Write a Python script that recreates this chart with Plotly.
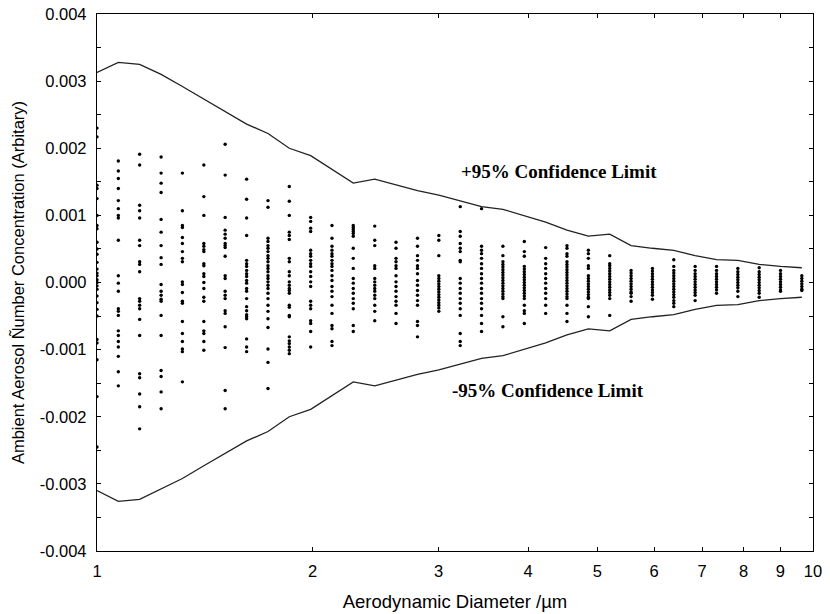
import plotly.graph_objects as go

# Aerodynamic diameter of each channel (um)
diameters = [1.000, 1.071, 1.147, 1.229, 1.316, 1.410, 1.510, 1.618, 1.733, 1.856,
             1.988, 2.129, 2.280, 2.443, 2.616, 2.803, 3.002, 3.216, 3.444, 3.689,
             3.952, 4.233, 4.533, 4.856, 5.201, 5.571, 5.967, 6.391, 6.845, 7.333,
             7.853, 8.411, 9.008, 9.647]

# +/-95% confidence limits (x 1e-3)
upper_limit_e3 = [3.13, 3.28, 3.25, 3.10, 2.92, 2.73, 2.55, 2.36, 2.22, 2.00,
                  1.89, 1.68, 1.48, 1.54, 1.45, 1.37, 1.30, 1.22, 1.13, 1.09,
                  1.00, 0.90, 0.78, 0.69, 0.72, 0.55, 0.51, 0.48, 0.40, 0.34,
                  0.33, 0.27, 0.24, 0.22]
lower_limit_e3 = [-3.10, -3.26, -3.23, -3.08, -2.92, -2.73, -2.55, -2.36, -2.22, -2.00,
                  -1.89, -1.68, -1.48, -1.54, -1.45, -1.37, -1.30, -1.22, -1.13, -1.09,
                  -1.00, -0.90, -0.78, -0.69, -0.72, -0.55, -0.51, -0.48, -0.40, -0.34,
                  -0.33, -0.27, -0.24, -0.22]

# Individual concentration values per channel (x 1e-3)
concentrations_e3 = [
    [2.3, 2.17, 1.45, 1.4, 1.25, 1.0, 0.85, 0.8, 0.6, 0.5, 0.42, 0.3, 0.2, 0.14, 0.1, 0.04, 0.0,
     -0.05, -0.1, -0.2, -0.3, -0.4, -0.5, -0.85, -0.9, -1.15, -1.7, -2.45],
    [1.81, 1.66, 1.55, 1.40, 1.22, 1.10, 1.0, 0.96, 0.63, 0.10, -0.01, -0.13, -0.39, -0.43,
     -0.49, -0.72, -0.79, -0.88, -0.96, -1.10, -1.33, -1.54],
    [1.91, 1.75, 1.15, 1.07, 0.96, 0.63, 0.55, 0.31, 0.27, 0.16, -0.24, -0.28, -0.34, -0.39,
     -0.55, -0.79, -1.36, -1.42, -1.66, -1.85, -2.18],
    [1.87, 1.63, 1.48, 1.34, 0.94, 0.75, 0.55, 0.37, 0.27, -0.03, -0.13, -0.19, -0.25, -0.28,
     -0.49, -0.79, -1.31, -1.40, -1.63, -1.88],
    [1.63, 1.07, 0.85, 0.82, 0.67, 0.58, 0.46, 0.36, 0.31, 0.01, -0.03, -0.15, -0.28, -0.31,
     -0.58, -0.76, -0.88, -0.99, -1.03, -1.48],
    [1.75, 1.28, 1.0, 0.58, 0.54, 0.49, 0.46, 0.28, 0.25, 0.13, 0.09, 0.0, -0.09, -0.22, -0.28,
     -0.58, -0.72, -0.76, -0.88, -1.01],
    [2.06, 1.60, 0.97, 0.78, 0.72, 0.66, 0.58, 0.55, 0.52, 0.39, 0.10, 0.06, -0.13, -0.19, -0.24,
     -0.42, -0.46, -0.66, -0.97, -1.61, -1.88],
    [1.54, 1.24, 0.96, 0.70, 0.33, 0.28, 0.24, 0.18, 0.13, 0.09, 0.03, -0.01, -0.09, -0.13, -0.24,
     -0.36, -0.42, -0.48, -0.51, -0.54, -0.84, -0.96, -1.03],
    [1.22, 1.12, 0.66, 0.61, 0.55, 0.51, 0.46, 0.40, 0.36, 0.31, 0.25, 0.21, 0.16, 0.10, 0.06,
     0.01, -0.04, -0.09, -0.16, -0.24, -0.34, -0.43, -0.54, -0.67, -0.99, -1.19, -1.58],
    [1.43, 1.21, 1.0, 0.75, 0.70, 0.64, 0.36, 0.31, 0.16, 0.10, 0.01, -0.04, -0.09, -0.12, -0.16,
     -0.34, -0.37, -0.49, -0.51, -0.81, -0.87, -0.91, -0.96, -1.01, -1.06],
    [0.97, 0.91, 0.81, 0.76, 0.48, 0.43, 0.39, 0.33, 0.28, 0.24, 0.16, 0.09, 0.01, -0.06, -0.28,
     -0.34, -0.39, -0.57, -0.61, -0.73, -0.96],
    [0.85, 0.66, 0.54, 0.48, 0.43, 0.39, 0.33, 0.28, 0.24, 0.18, 0.10, 0.03, -0.06, -0.13, -0.21,
     -0.34, -0.46, -0.64, -0.69, -0.88, -0.94],
    [0.85, 0.82, 0.79, 0.76, 0.73, 0.69, 0.51, 0.36, 0.21, 0.06, -0.01, -0.09, -0.16, -0.24,
     -0.31, -0.39, -0.64, -0.73],
    [0.84, 0.63, 0.55, 0.25, 0.21, 0.06, 0.01, -0.04, -0.09, -0.13, -0.19, -0.24, -0.34, -0.43, -0.57],
    [0.60, 0.51, 0.36, 0.31, 0.25, 0.21, 0.10, 0.01, -0.06, -0.13, -0.21, -0.28, -0.34, -0.46, -0.61],
    [0.66, 0.54, 0.40, 0.33, 0.25, 0.21, 0.13, 0.03, -0.04, -0.12, -0.19, -0.27, -0.34, -0.58,
     -0.64, -0.81],
    [0.70, 0.63, 0.40, 0.10, 0.06, 0.02, -0.02, -0.06, -0.10, -0.14, -0.18, -0.22, -0.26, -0.30,
     -0.34, -0.38, -0.43],
    [1.13, 0.76, 0.69, 0.58, 0.51, 0.46, 0.33, 0.31, 0.06, -0.01, -0.09, -0.16, -0.24, -0.31,
     -0.39, -0.49, -0.76, -0.88, -0.94],
    [1.10, 0.54, 0.48, 0.43, 0.36, 0.28, 0.21, 0.13, 0.06, -0.01, -0.09, -0.16, -0.24, -0.31,
     -0.39, -0.49, -0.61, -0.73],
    [0.54, 0.40, 0.31, 0.27, 0.23, 0.19, 0.15, 0.11, 0.07, 0.03, -0.01, -0.05, -0.09, -0.13,
     -0.17, -0.21, -0.24, -0.51, -0.66],
    [0.61, 0.46, 0.39, 0.24, 0.20, 0.16, 0.12, 0.08, 0.04, 0.0, -0.04, -0.08, -0.12, -0.16,
     -0.20, -0.24, -0.34, -0.42, -0.46, -0.61],
    [0.52, 0.36, 0.28, 0.21, 0.13, 0.06, -0.01, -0.09, -0.16, -0.24, -0.34, -0.46],
    [0.55, 0.51, 0.43, 0.39, 0.31, 0.27, 0.23, 0.19, 0.15, 0.11, 0.07, 0.03, -0.01, -0.05,
     -0.09, -0.13, -0.17, -0.21, -0.24, -0.34, -0.46, -0.58],
    [0.48, 0.43, 0.36, 0.25, 0.21, 0.10, 0.06, 0.02, -0.02, -0.06, -0.10, -0.14, -0.18, -0.22,
     -0.24, -0.36, -0.51],
    [0.40, 0.28, 0.25, 0.21, 0.17, 0.13, 0.09, 0.05, 0.01, -0.03, -0.07, -0.11, -0.15, -0.19,
     -0.24, -0.49],
    [0.18, 0.14, 0.10, 0.06, 0.02, -0.02, -0.06, -0.10, -0.14, -0.16, -0.21, -0.28],
    [0.21, 0.17, 0.13, 0.09, 0.05, 0.01, -0.03, -0.07, -0.11, -0.15, -0.19, -0.25],
    [0.34, 0.24, 0.18, 0.14, 0.10, 0.06, 0.02, -0.02, -0.06, -0.10, -0.14, -0.18, -0.22, -0.27,
     -0.31, -0.36],
    [0.24, 0.18, 0.13, 0.09, 0.05, 0.01, -0.03, -0.07, -0.11, -0.15, -0.19, -0.27],
    [0.24, 0.18, 0.13, 0.09, 0.05, 0.01, -0.03, -0.07, -0.11, -0.16],
    [0.21, 0.16, 0.12, 0.08, 0.04, 0.0, -0.04, -0.08, -0.13, -0.21],
    [0.22, 0.16, 0.12, 0.08, 0.04, 0.0, -0.04, -0.08, -0.12, -0.16, -0.22],
    [0.18, 0.13, 0.09, 0.05, 0.01, -0.03, -0.07, -0.11, -0.13],
    [0.10, 0.06, 0.02, -0.02, -0.06, -0.10, -0.12],
]

x_tick_vals = [1, 2, 3, 4, 5, 6, 7, 8, 9, 10]
x_tick_text = ["1", "2", "3", "4", "5", "6", "7", "8", "9", "10"]
y_tick_vals = [-0.004, -0.003, -0.002, -0.001, 0.0, 0.001, 0.002, 0.003, 0.004]
y_tick_text = ["-0.004", "-0.003", "-0.002", "-0.001", "0.000", "0.001", "0.002", "0.003", "0.004"]
y_minor_vals = [-0.0035, -0.0025, -0.0015, -0.0005, 0.0005, 0.0015, 0.0025, 0.0035]

SCALE = 1e-3

xs, ys = [], []
for d, col in zip(diameters, concentrations_e3):
    for v in col:
        xs.append(d)
        ys.append(v * SCALE)

fig = go.Figure()
fig.add_trace(go.Scatter(x=xs, y=ys, mode="markers",
                         marker=dict(color="black", size=3.4, line=dict(width=0)),
                         showlegend=False, hoverinfo="skip"))
fig.add_trace(go.Scatter(x=diameters, y=[v * SCALE for v in upper_limit_e3], mode="lines",
                         line=dict(color="#222222", width=1.3), showlegend=False))
fig.add_trace(go.Scatter(x=diameters, y=[v * SCALE for v in lower_limit_e3], mode="lines",
                         line=dict(color="#222222", width=1.3), showlegend=False))

tick_font = dict(family="Liberation Sans, Arial, sans-serif", size=16.5, color="black")
xtitle_font = dict(family="Liberation Sans, Arial, sans-serif", size=18.5, color="black")
fig.update_layout(
    width=830, height=614,
    margin=dict(l=97, r=17, t=14, b=63, autoexpand=False),
    paper_bgcolor="white", plot_bgcolor="white",
    xaxis=dict(type="log", range=[0, 1], tickmode="array", tickvals=x_tick_vals,
               ticktext=x_tick_text, ticks="inside", ticklen=4, tickcolor="black",
               showline=True, linecolor="black", linewidth=1.3, mirror="ticks",
               showgrid=False, zeroline=False, tickfont=tick_font, ticklabelstandoff=5,
               automargin=False,
               title=dict(text="Aerodynamic Diameter /µm", font=xtitle_font, standoff=16)),
    yaxis=dict(range=[-0.004, 0.004], tickmode="array", tickvals=y_tick_vals,
               ticktext=y_tick_text, ticks="inside", ticklen=4, tickcolor="black",
               minor=dict(tickmode="array", tickvals=y_minor_vals, ticks="inside",
                          ticklen=4, tickcolor="black", showgrid=False),
               showline=True, linecolor="black", linewidth=1.3, mirror="ticks",
               showgrid=False, zeroline=False, tickfont=tick_font, ticklabelstandoff=6,
               automargin=False,
               title=dict(text="Ambient Aerosol Ñumber Concentration (Arbitary)",
                          font=tick_font, standoff=10)),
)

ann_font = dict(family="Liberation Serif, Times New Roman, serif", size=19, color="black")
fig.add_annotation(x=0.5056, y=0.00166, xref="x", yref="y", text="<b>+95% Confidence Limit</b>",
                   showarrow=False, xanchor="left", yanchor="middle", font=ann_font)
fig.add_annotation(x=0.493, y=-0.00161, xref="x", yref="y", text="<b>-95% Confidence Limit</b>",
                   showarrow=False, xanchor="left", yanchor="middle", font=ann_font)

fig.write_html("out.html")
